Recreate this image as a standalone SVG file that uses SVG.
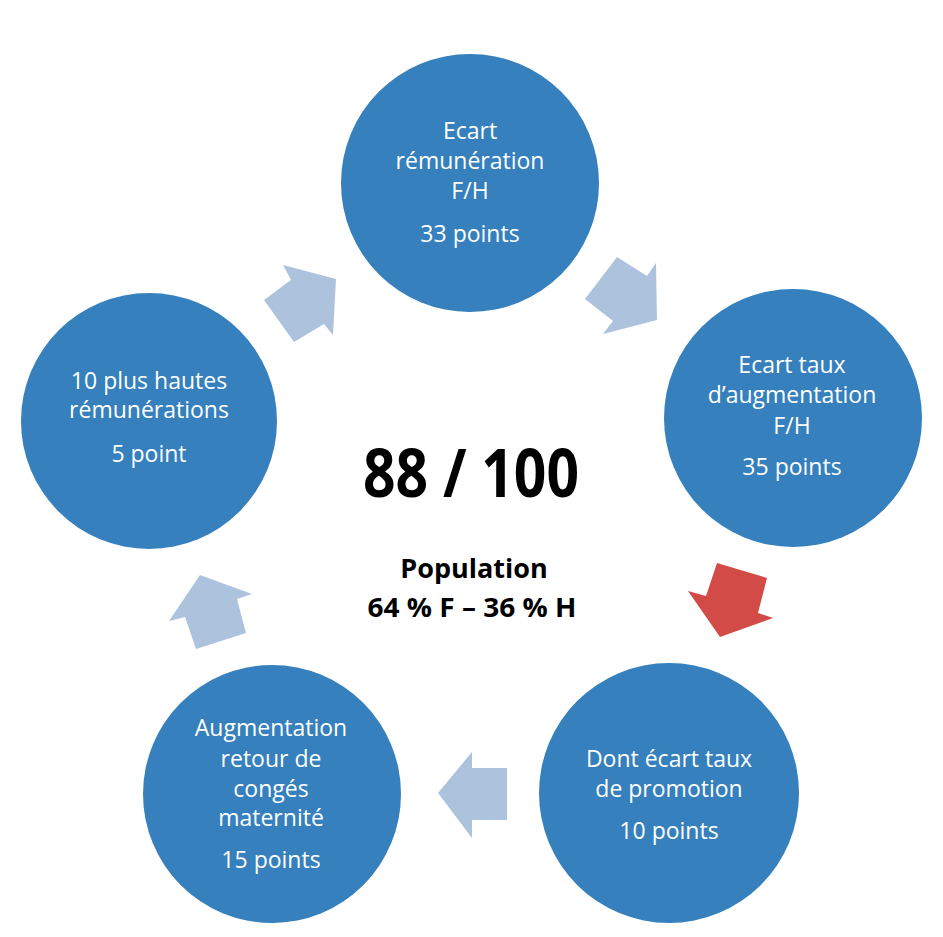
<svg xmlns="http://www.w3.org/2000/svg" width="943" height="937" viewBox="0 0 943 937">
<style>
.node{fill:#3580BD;}
.lbl{font-family:"Open Sans","Liberation Sans",sans-serif;font-size:23px;fill:#FFFFFF;text-anchor:middle;}
.arr{fill:#ADC3DD;}
.red{fill:#D24B47;}
.ctr{font-family:"Open Sans","Liberation Sans",sans-serif;font-weight:bold;fill:#000000;text-anchor:middle;}
</style>
<rect width="943" height="937" fill="#FFFFFF"/>
<g id="node-top">
<circle class="node" cx="470" cy="183" r="129"/>
<text class="lbl" x="470" y="139">Ecart</text>
<text class="lbl" x="470" y="169">rémunération</text>
<text class="lbl" x="470" y="199">F/H</text>
<text class="lbl" x="470" y="242">33 points</text>
</g>
<g id="node-right">
<circle class="node" cx="793" cy="418" r="129"/>
<text class="lbl" x="792" y="373">Ecart taux</text>
<text class="lbl" x="792" y="403">d’augmentation</text>
<text class="lbl" x="792" y="434">F/H</text>
<text class="lbl" x="792" y="475">35 points</text>
</g>
<g id="node-bottom-right">
<circle class="node" cx="669" cy="793" r="130"/>
<text class="lbl" x="669" y="767">Dont écart taux</text>
<text class="lbl" x="669" y="797">de promotion</text>
<text class="lbl" x="669" y="839">10 points</text>
</g>
<g id="node-bottom-left">
<circle class="node" cx="272" cy="794" r="129"/>
<text class="lbl" x="271" y="736">Augmentation</text>
<text class="lbl" x="271" y="767">retour de</text>
<text class="lbl" x="271" y="797">congés</text>
<text class="lbl" x="271" y="826">maternité</text>
<text class="lbl" x="271" y="868">15 points</text>
</g>
<g id="node-left">
<circle class="node" cx="149" cy="421" r="128"/>
<text class="lbl" x="149" y="389">10 plus hautes</text>
<text class="lbl" x="149" y="418">rémunérations</text>
<text class="lbl" x="149" y="462">5 point</text>
</g>
<g id="center">
<text class="ctr" x="471" y="497" font-size="66" textLength="216" lengthAdjust="spacingAndGlyphs">88 / 100</text>
<text class="ctr" x="474" y="578" font-size="27">Population</text>
<text class="ctr" x="472" y="617" font-size="27" textLength="209" lengthAdjust="spacingAndGlyphs">64 % F – 36 % H</text>
</g>
<g id="connectors">
<polygon class="arr" points="336,279 283,265 291,280 264,300 294,342 324,324 333,335"/>
<polygon class="arr" points="657,320 656,263 647,276 617,257 585,299 613,321 603,334"/>
<polygon class="red" points="720,637 688,591 706,596 717,563 767,578 758,613 773,618"/>
<polygon class="arr" points="438,793 472,752 472,768 507,768 507,820 472,820 472,838"/>
<polygon class="arr" points="200,575 252,594 237,599 246,633 196,649 185,617 169,621"/>
</g>
</svg>
